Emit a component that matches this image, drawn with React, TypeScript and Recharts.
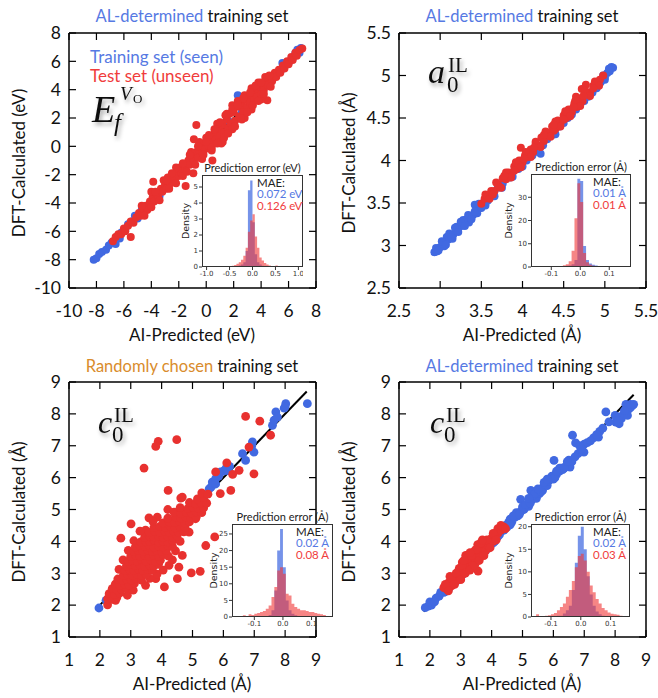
import React from 'react';
import { ScatterChart, Scatter, XAxis, YAxis, ReferenceLine, ComposedChart, Area } from 'recharts';

const BLUE = '#4169e1';
const RED = '#e8312f';
const TXT_BLUE = '#5679e3';
const TXT_RED = '#f03c3c';
const TXT_ORANGE = '#d98c2c';
const SANS = 'Lato, "Open Sans", sans-serif';
const MPL = '"DejaVu Sans", sans-serif';
const SERIF = '"Liberation Serif", "DejaVu Serif", serif';

type Pt = [number, number];

// ---- top left: E_f (eV)
const efTicks = [-10, -8, -6, -4, -2, 0, 2, 4, 6, 8];
const efFit: Pt[] = [[-8.1, -8.1], [6.9, 6.9]];
const efBlue: Pt[] = [
  [-8.2, -8.0], [-8.0, -7.9], [-7.8, -7.6], [-7.6, -7.45], [-7.3, -7.3], [-7.1, -7.0], [-6.9, -6.8], [-6.6, -6.9],
  [-6.5, -6.4], [-6.3, -6.5], [-6.2, -6.1], [-5.9, -5.9], [-5.7, -5.5], [-5.4, -5.3], [-5.2, -4.9], [-5.0, -5.1],
  [-4.7, -4.5], [-4.3, -4.4], [-3.9, -3.8], [-3.4, -3.5], [-2.9, -2.8], [-2.3, -2.5], [-1.6, -1.7], [-1.0, -1.0],
  [-0.4, -0.3], [0.3, 0.4], [1.0, 0.9], [1.6, 1.8], [2.3, 3.6], [2.6, 2.4], [3.2, 3.0], [3.9, 3.8], [4.5, 4.3],
  [5.1, 5.0], [5.6, 5.5], [5.55, 5.88], [6.0, 5.9], [6.3, 6.2], [6.5, 6.6], [6.64, 6.82], [6.9, 6.95], [6.8, 6.6],
];
const efRed: Pt[] = [
  [-6.8, -6.7], [-6.6, -6.4], [-6.4, -6.2], [-6.2, -6.2], [-6.0, -5.8], [-5.9, -6.0], [-5.7, -5.6], [-5.5, -6.4],
  [-5.5, -5.3], [-5.3, -5.4], [-5.1, -5.0], [-4.9, -4.7], [-4.8, -4.9], [-4.6, -4.4], [-4.4, -4.2], [-4.3, -4.5],
  [-4.1, -3.9], [-3.9, -3.6], [-3.8, -3.9], [-3.86, -2.5], [-3.6, -3.3], [-3.5, -3.6], [-3.3, -3.0], [-3.2, -3.2],
  [-3.0, -2.7], [-2.9, -3.0], [-2.7, -2.4], [-2.6, -2.6], [-2.4, -2.1], [-2.3, -2.3], [-2.1, -1.8], [-2.0, -2.1],
  [-1.9, -1.5], [-1.8, -1.9], [-1.6, -1.3], [-1.5, -2.8], [-1.5, -1.6], [-1.3, -1.0], [-1.2, -1.3], [-1.0, -0.7],
  [-0.94, -1.9], [-0.9, -1.0], [-0.9, 0.5], [-0.72, 1.5], [-0.7, -0.4], [-0.6, -0.8], [-0.4, -0.1], [-0.3, -0.4],
  [-0.2, 0.2], [-0.1, -0.2], [0.1, 0.4], [0.2, 0.0], [0.3, 0.7], [0.45, -1.0], [0.5, 0.3], [0.6, 0.9], [0.7, 0.5],
  [0.9, 1.2], [1.0, 0.7], [1.2, 0.3], [1.2, 1.5], [1.3, 1.0], [1.5, 1.9], [1.6, 1.3], [1.7, 2.3], [1.8, 1.6],
  [2.0, 2.4], [2.1, 1.8], [2.2, 2.8], [2.4, 2.1], [2.5, 2.8], [2.6, 3.1], [2.7, 2.4], [2.8, 2.0], [2.9, 3.3],
  [3.0, 2.8], [3.1, 3.5], [3.2, 3.1], [3.4, 3.8], [3.5, 3.3], [3.6, 4.0], [3.7, 3.5], [3.9, 4.2], [4.0, 3.7],
  [4.1, 4.4], [4.2, 4.0], [4.4, 4.7], [4.45, 3.25], [4.5, 4.3], [4.7, 4.9], [4.8, 4.6], [5.0, 5.2], [5.1, 4.9],
  [5.3, 5.4], [5.4, 5.2], [5.6, 5.7], [5.7, 5.5], [5.9, 6.0], [6.0, 5.8], [6.2, 6.3], [6.3, 6.1], [6.5, 6.6],
  [6.6, 6.4], [6.8, 6.8], [7.0, 6.9], [-2.8, -2.2], [-2.2, -1.5], [-1.1, -0.4], [-0.5, 0.3], [0.0, 0.6], [0.8, 1.6],
  [1.4, 2.2], [1.9, 2.9], [2.3, 3.2], [2.8, 3.6], [3.3, 4.1], [0.4, -0.3], [1.1, 0.2], [1.9, 1.2], [2.6, 1.9],
  [3.3, 2.6], [4.0, 3.3], [-4.0, -3.2], [-3.1, -2.4], [-1.7, -2.1], [-0.3, -0.9], [0.9, 0.3], [3.8, 4.5], [4.3, 4.9],
  [-4.7, -4.2], [-4.5, -4.9], [-4.0, -4.3], [-3.7, -3.2],
  [-3.4, -3.8], [-2.9, -2.4], [-2.7, -3.0], [-2.5, -1.9], [-2.2, -2.6], [-1.7, -1.2], [-1.4, -1.8], [-1.2, -0.6],
  [-0.8, -1.3], [-0.6, 0.0], [-0.2, -0.6], [0.0, 0.3], [0.2, 0.8], [0.4, -0.1], [0.6, 1.2], [0.8, 0.2], [1.0, 1.7],
  [1.3, 0.6], [1.5, 2.3], [1.6, 0.9], [1.9, 2.6], [2.1, 1.4], [2.3, 2.9], [2.5, 2.0], [2.7, 3.4], [3.0, 2.4],
  [3.2, 3.8], [3.4, 2.9], [3.6, 4.3], [3.8, 3.2], [4.0, 4.5], [4.2, 3.7], [4.6, 5.0], [4.7, 4.2],
];

// ---- top right: a0 (Å)
const aTicks = [2.5, 3, 3.5, 4, 4.5, 5, 5.5];
const aFit: Pt[] = [[2.93, 2.92], [5.1, 5.09]];
const aBlue: Pt[] = [
  [2.93, 2.92], [2.96, 2.93], [3.0, 2.98], [3.03, 3.02], [3.05, 2.99], [3.06, 3.04], [3.1, 3.07], [3.12, 3.12],
  [3.15, 3.08], [3.16, 3.13], [3.2, 3.17], [3.22, 3.22], [3.26, 3.23], [3.3, 3.26], [3.32, 3.31], [3.35, 3.27],
  [3.36, 3.33], [3.4, 3.36], [3.42, 3.48], [3.44, 3.42], [3.45, 3.38], [3.48, 3.44], [3.52, 3.5], [3.55, 3.47],
  [3.56, 3.52], [3.6, 3.58], [3.65, 3.61], [3.7, 3.68], [3.76, 3.73], [3.85, 3.8], [3.95, 3.9], [4.05, 4.0],
  [4.15, 4.1], [4.22, 4.08], [4.3, 4.25], [4.4, 4.31], [4.45, 4.4], [4.55, 4.5], [4.65, 4.6], [4.75, 4.7],
  [4.85, 4.8], [4.9, 4.88], [4.95, 4.92], [5.0, 4.98], [5.03, 5.03], [5.06, 5.05], [5.1, 5.09], [5.08, 5.1],
  [4.98, 5.0], [3.08, 3.1], [3.28, 3.3], [3.2, 3.22],
  [2.95, 2.97], [2.98, 2.94], [3.02, 3.05], [3.07, 3.01], [3.11, 3.14], [3.14, 3.1], [3.18, 3.21], [3.22, 3.16],
  [3.25, 3.28], [3.3, 3.23], [3.34, 3.36], [3.38, 3.31], [3.42, 3.4], [3.47, 3.49], [3.5, 3.44], [3.58, 3.53],
  [3.66, 3.58], [3.75, 3.68], [3.88, 3.81], [4.0, 3.93], [4.12, 4.06], [4.25, 4.18], [4.36, 4.3], [4.5, 4.44],
  [4.6, 4.54], [4.7, 4.65], [4.8, 4.75], [4.9, 4.85], [5.0, 4.95], [5.05, 5.08],
];
const aRed: Pt[] = [
  [3.5, 3.49], [3.54, 3.55], [3.58, 3.56], [3.62, 3.64], [3.66, 3.64], [3.7, 3.72], [3.72, 3.69], [3.76, 3.79],
  [3.8, 3.78], [3.83, 3.86], [3.86, 3.83], [3.9, 3.93], [3.93, 3.9], [3.96, 4.0], [3.98, 4.15], [4.0, 3.98],
  [4.03, 4.06], [4.06, 4.04], [4.1, 4.13], [4.13, 4.1], [4.16, 4.2], [4.2, 4.17], [4.23, 4.27], [4.26, 4.23],
  [4.3, 4.33], [4.33, 4.29], [4.36, 4.4], [4.4, 4.37], [4.43, 4.47], [4.46, 4.43], [4.5, 4.53], [4.53, 4.5],
  [4.56, 4.6], [4.6, 4.57], [4.63, 4.67], [4.65, 4.75], [4.66, 4.63], [4.7, 4.73], [4.72, 4.84], [4.73, 4.7],
  [4.77, 4.89], [4.78, 4.8], [4.82, 4.8], [4.86, 4.88], [4.9, 4.9], [4.94, 4.95], [4.98, 5.0], [3.95, 3.95],
  [4.08, 4.08], [4.25, 4.25], [4.38, 4.35], [4.52, 4.55],
  [3.55, 3.6], [3.6, 3.55], [3.68, 3.74], [3.74, 3.68], [3.8, 3.86], [3.86, 3.8], [3.92, 3.98], [3.98, 3.92],
  [4.04, 4.1], [4.1, 4.04], [4.16, 4.22], [4.22, 4.16], [4.28, 4.34], [4.34, 4.28], [4.4, 4.46], [4.46, 4.4],
  [4.52, 4.58], [4.58, 4.52], [4.64, 4.7], [4.7, 4.64], [4.76, 4.82], [4.82, 4.76], [4.88, 4.93], [4.93, 4.88],
  [3.64, 3.6], [3.78, 3.82], [3.9, 3.88], [4.02, 4.02], [4.14, 4.15], [4.26, 4.3], [4.38, 4.42], [4.5, 4.48],
  [4.62, 4.63], [4.74, 4.76], [4.86, 4.85],
];

// ---- bottom: c0 (Å)
const cTicks = [1, 2, 3, 4, 5, 6, 7, 8, 9];
const cRandFit: Pt[] = [[2.0, 2.0], [8.7, 8.7]];
const cRandBlue: Pt[] = [
  [1.97, 1.91], [2.2, 2.15], [2.4, 2.31], [2.6, 2.6], [3.0, 3.05], [3.6, 3.65], [4.2, 4.25], [4.8, 4.85],
  [5.2, 5.25], [5.4, 5.45], [5.54, 5.65], [5.64, 5.86], [5.75, 5.97], [5.85, 6.05], [5.91, 6.18], [6.0, 6.2],
  [6.08, 6.28], [6.15, 6.22], [6.2, 6.35], [6.62, 6.75], [6.72, 6.54], [6.89, 6.96], [6.94, 7.12], [6.99, 6.8],
  [6.92, 7.0], [7.59, 7.64], [7.64, 7.8], [7.7, 8.06], [7.75, 7.9], [7.97, 8.18], [8.02, 8.32], [8.0, 8.22],
  [8.72, 8.32], [5.6, 5.7], [5.75, 5.8],
];
const cRandRed: Pt[] = [
  [6.72, 7.92], [7.18, 7.77], [7.53, 7.33], [6.83, 6.96], [6.99, 6.12], [6.51, 6.23], [6.24, 5.6], [5.75, 6.18],
  [6.11, 6.46], [3.89, 7.14], [3.81, 6.98], [4.49, 7.19], [3.43, 6.3], [4.21, 5.6], [5.72, 4.14], [5.43, 3.87],
  [4.96, 3.01], [5.25, 3.06], [4.51, 2.83], [4.09, 2.57], [3.01, 4.55], [2.68, 4.1], [3.59, 4.74], [3.86, 4.76],
  [3.48, 4.35], [2.25, 2.01], [2.51, 2.15], [2.89, 2.31], [3.48, 2.62], [3.81, 2.83], [4.56, 3.19], [4.67, 3.56],
  [4.24, 3.25], [5.37, 5.13], [5.1, 4.71], [4.89, 4.29], [4.67, 5.39], [4.2, 5.0], [5.9, 5.5], [6.3, 6.1],
  [2.25, 2.2], [2.4, 2.18], [2.55, 2.24],
  [2.3, 2.36], [2.48, 2.33], [2.65, 2.38],
  [2.4, 2.52], [2.55, 2.48], [2.7, 2.5], [2.86, 2.53], [3.08, 2.47],
  [2.5, 2.66], [2.64, 2.62], [2.8, 2.67], [2.95, 2.63], [3.12, 2.68],
  [2.58, 2.82], [2.72, 2.78], [2.87, 2.81], [3.02, 2.79], [3.17, 2.83], [3.35, 2.78], [3.62, 2.84],
  [2.76, 2.93], [2.9, 2.96], [3.05, 2.94], [3.2, 2.98], [3.35, 2.93], [3.5, 2.96], [3.85, 2.97],
  [2.62, 3.12], [2.82, 3.08], [2.96, 3.11], [3.1, 3.09], [3.25, 3.13], [3.4, 3.08], [3.55, 3.12], [3.7, 3.09], [4.05, 3.1],
  [2.86, 3.23], [3.0, 3.27], [3.15, 3.24], [3.3, 3.27], [3.45, 3.22], [3.6, 3.26], [3.75, 3.23], [3.9, 3.28],
  [2.75, 3.42], [2.92, 3.38], [3.06, 3.41], [3.2, 3.39], [3.35, 3.43], [3.5, 3.38], [3.65, 3.42], [3.8, 3.37], [3.96, 3.41], [4.35, 3.42],
  [3.0, 3.53], [3.15, 3.57], [3.3, 3.54], [3.45, 3.57], [3.6, 3.52], [3.75, 3.56], [3.9, 3.53], [4.05, 3.58], [4.22, 3.54],
  [2.92, 3.72], [3.1, 3.68], [3.25, 3.71], [3.4, 3.69], [3.55, 3.73], [3.7, 3.68], [3.85, 3.71], [4.0, 3.69], [4.15, 3.72], [4.45, 3.7],
  [3.15, 3.83], [3.3, 3.87], [3.45, 3.84], [3.6, 3.87], [3.75, 3.82], [3.9, 3.86], [4.05, 3.83], [4.2, 3.87], [4.35, 3.84],
  [3.1, 4.02], [3.32, 3.98], [3.48, 4.01], [3.62, 3.99], [3.76, 4.03], [3.9, 3.98], [4.05, 4.01], [4.2, 3.98], [4.35, 4.02], [4.6, 4.0],
  [3.45, 4.13], [3.6, 4.17], [3.75, 4.14], [3.9, 4.17], [4.05, 4.12], [4.2, 4.16], [4.35, 4.13], [4.5, 4.17],
  [3.3, 4.32], [3.6, 4.28], [3.78, 4.31], [3.94, 4.29], [4.1, 4.33], [4.25, 4.28], [4.4, 4.31], [4.55, 4.29], [4.72, 4.3],
  [3.75, 4.43], [3.95, 4.47], [4.12, 4.44], [4.28, 4.47], [4.44, 4.42], [4.6, 4.46], [4.76, 4.43],
  [3.72, 4.62], [4.05, 4.58], [4.25, 4.61], [4.42, 4.59], [4.58, 4.63], [4.74, 4.58], [4.9, 4.61],
  [4.2, 4.73], [4.45, 4.77], [4.62, 4.74], [4.78, 4.77], [4.94, 4.72], [5.12, 4.76],
  [4.4, 4.92], [4.62, 4.88], [4.8, 4.91], [4.96, 4.89], [5.12, 4.93], [5.3, 4.9],
  [4.6, 5.06], [4.85, 5.03], [5.02, 5.07], [5.18, 5.04], [5.36, 5.05],
  [4.9, 5.22], [5.1, 5.18], [5.28, 5.21], [5.46, 5.2],
  [4.62, 5.36], [5.16, 5.33], [5.36, 5.37],
  [5.3, 5.52], [5.5, 5.48],
];

const cAlFit: Pt[] = [[1.8, 1.8], [8.6, 8.6]];
const cAlBlue: Pt[] = [
  [1.85, 1.92], [1.95, 1.97], [2.05, 2.0], [2.2, 2.22], [2.3, 2.28], [2.45, 2.4], [2.6, 2.5], [2.75, 2.65],
  [2.9, 2.8], [3.05, 2.95], [3.2, 3.1], [3.35, 3.25], [3.5, 3.4], [3.65, 3.55], [3.8, 3.7], [3.95, 3.85],
  [4.1, 4.0], [4.2, 4.15], [4.3, 4.3], [4.4, 4.35], [4.5, 4.45], [4.55, 4.6], [4.65, 4.6], [4.75, 4.75],
  [4.85, 4.8], [4.95, 4.95], [4.94, 5.32], [5.05, 5.0], [5.15, 5.15], [5.2, 5.1], [5.27, 5.6], [5.3, 5.3],
  [5.4, 5.4], [5.45, 5.35], [5.5, 5.55], [5.55, 5.5], [5.6, 5.65], [5.65, 5.6], [5.75, 5.86], [5.7, 5.75],
  [5.8, 5.75], [5.9, 5.95], [6.0, 5.95], [6.02, 6.54], [6.1, 6.1], [6.2, 6.2], [6.3, 6.25], [6.4, 6.35],
  [6.54, 6.33], [6.5, 6.55], [6.6, 6.5], [6.62, 7.33], [6.72, 7.09], [6.92, 6.98], [6.99, 6.8], [6.8, 6.75],
  [6.85, 7.0], [7.0, 7.05], [7.1, 7.1], [7.3, 7.25], [7.46, 7.27], [7.5, 7.45], [7.7, 8.06], [8.07, 7.9],
  [8.02, 7.74], [8.13, 7.69], [8.2, 7.85], [8.25, 7.95], [8.4, 7.95], [8.45, 8.16], [8.56, 8.27], [8.5, 8.2],
  [8.35, 8.3], [4.6, 4.7], [4.8, 4.9], [5.0, 5.08], [5.35, 5.45], [5.85, 5.9], [6.25, 6.3],
  [2.0, 2.1], [2.15, 2.1], [2.35, 2.4], [2.5, 2.42], [2.7, 2.72], [2.85, 2.75], [3.0, 3.0], [3.15, 3.05],
  [3.3, 3.3], [3.45, 3.35], [3.6, 3.6], [3.75, 3.65], [3.9, 3.9], [4.05, 3.95], [4.25, 4.2], [4.45, 4.5],
  [4.6, 4.52], [4.7, 4.8], [4.9, 4.85], [5.1, 5.15], [5.25, 5.2], [5.4, 5.5], [5.6, 5.55], [5.7, 5.85],
  [5.95, 6.05], [6.05, 6.0], [6.2, 6.3], [6.35, 6.3], [6.45, 6.5], [6.7, 6.65], [6.9, 6.9], [7.2, 7.15],
  [7.4, 7.35], [7.6, 7.55], [7.8, 7.75], [8.0, 7.95], [8.3, 8.1], [8.5, 8.3], [8.6, 8.3], [8.1, 7.8],
  [5.2, 5.35], [5.5, 5.65], [5.8, 5.95], [6.1, 6.2],
];
const cAlRed: Pt[] = [
  [2.45, 2.55], [2.55, 2.5], [2.6, 2.7], [2.7, 2.6], [2.75, 2.85], [2.8, 2.75], [2.9, 2.95], [2.9, 2.8],
  [3.0, 3.05], [3.0, 2.9], [3.1, 3.2], [3.1, 3.0], [3.16, 3.56], [3.2, 3.3], [3.2, 3.1], [3.25, 3.45],
  [3.3, 3.4], [3.3, 3.2], [3.4, 3.5], [3.4, 3.3], [3.45, 3.7], [3.5, 3.6], [3.5, 3.4], [3.56, 3.07],
  [3.6, 3.75], [3.6, 3.5], [3.65, 3.85], [3.7, 3.8], [3.7, 3.6], [3.8, 3.9], [3.8, 3.7], [3.9, 4.0],
  [3.9, 3.85], [4.0, 4.1], [4.05, 4.0], [4.1, 4.2], [4.2, 4.25], [4.2, 4.4], [4.3, 4.35], [4.4, 4.45],
  [2.65, 2.9], [3.35, 3.6], [3.05, 3.35], [2.95, 3.15], [3.55, 3.9],
  [2.5, 2.65], [2.6, 2.45], [2.7, 2.85], [2.8, 2.65], [2.85, 3.0], [3.0, 2.8], [3.05, 3.25], [3.15, 3.0],
  [3.2, 3.45], [3.3, 3.1], [3.35, 3.55], [3.45, 3.25], [3.5, 3.75], [3.6, 3.4], [3.65, 3.95], [3.75, 3.55],
  [3.85, 4.05], [3.95, 3.8], [4.05, 4.25], [4.15, 4.05], [4.3, 4.5], [4.45, 4.4], [3.3, 3.65], [3.1, 3.4],
  [3.7, 4.05],
];

// ---- inset histograms (bin left edges, density)
const errEdgesWide = [-0.6, -0.55, -0.5, -0.45, -0.4, -0.35, -0.3, -0.25, -0.2, -0.15, -0.1, -0.05, 0, 0.05, 0.1, 0.15, 0.2, 0.25, 0.3, 0.35, 0.4, 0.45, 0.5, 0.55, 0.6];
const efHistBlue = [0, 0, 0.02, 0.02, 0.04, 0.06, 0.1, 0.15, 0.3, 1.0, 4.8, 5.4, 2.8, 0.8, 0.3, 0.15, 0.08, 0.05, 0.03, 0.02, 0.01, 0, 0, 0, 0];
const efHistRed = [0.03, 0.05, 0.05, 0.08, 0.12, 0.2, 0.3, 0.45, 0.7, 1.2, 2.2, 2.9, 3.3, 1.9, 1.2, 0.6, 0.4, 0.25, 0.15, 0.1, 0.06, 0.04, 0.1, 0.03, 0];

const errEdgesFine = [-0.15, -0.14, -0.13, -0.12, -0.11, -0.1, -0.09, -0.08, -0.07, -0.06, -0.05, -0.04, -0.03, -0.02, -0.01, 0, 0.01, 0.02, 0.03, 0.04, 0.05, 0.06, 0.07, 0.08, 0.09, 0.1, 0.11, 0.12, 0.13, 0.14, 0.15];
const aHistBlue = [0, 0, 0, 0.2, 0, 0.2, 0.1, 0.2, 0.2, 0.3, 0.5, 0.6, 1.2, 3, 38, 37, 9, 3, 1.5, 1, 0.6, 0.4, 0.3, 0.3, 0.2, 0.2, 0.1, 0.1, 0.1, 0.1, 0];
const aHistRed = [0, 0, 0, 0.1, 0.1, 0.2, 0.2, 0.3, 0.4, 0.7, 1.2, 2.5, 7, 21, 36, 28, 6, 2, 1, 0.5, 0.3, 0.2, 0.1, 0.1, 0, 0, 0, 0, 0, 0, 0];
const cRandHistBlue = [0, 0, 0, 0, 0, 0, 0, 0, 0.2, 0.3, 0.6, 2, 8, 20, 26.5, 15, 5, 2, 1, 0.5, 0.2, 0, 0, 0, 0, 0, 0, 0, 0, 0, 0];
const cRandHistRed = [0.3, 0.5, 0.3, 0.8, 0.6, 1, 1.2, 1.5, 1.8, 2.5, 3.5, 6, 9, 14, 15, 13, 7, 6.5, 4, 3, 2.5, 2, 2, 1.8, 1.5, 1.5, 1.2, 1, 0.8, 0.6, 0];
const cAlHistBlue = [0, 0, 0, 0, 0, 0, 0, 0.3, 0.3, 0.8, 1.5, 2.5, 6, 12, 18, 20, 15, 9, 5, 2.5, 1.2, 0.6, 0.3, 0, 0, 0, 0, 0, 0, 0, 0];
const cAlHistRed = [0.6, 0, 0.2, 0.3, 0.4, 0.6, 0.9, 1.5, 2.2, 3, 4.5, 6, 8, 11, 13.5, 14, 12.5, 10, 7, 5.5, 4, 3, 2, 1.5, 1, 0.7, 0.6, 0.5, 0.3, 0.2, 0];

const toXY = (pts: Pt[]) => pts.map(([x, y]) => ({ x, y }));
const toHist = (edges: number[], b: number[], r: number[]) => edges.map((x, i) => ({ x, blue: b[i], red: r[i] }));

type Box = [number, number, number, number];

const TICK_FONT = 17.5;
const TICK_LEN = 7;

// main-plot ticks point inwards (matplotlib "in" style on all four sides)
const TickLeft = (p: any) => (
  <g>
    <line x1={p.x + 8} x2={p.x + 8 + TICK_LEN} y1={p.y} y2={p.y} stroke="#000" strokeWidth={1.2} />
    <text x={p.x} y={p.y} dy={6.3} textAnchor="end" fill="#111" fontSize={TICK_FONT} fontFamily={SANS}>{String(p.payload.value)}</text>
  </g>
);
const TickBottom = (p: any) => (
  <g>
    <line x1={p.x} x2={p.x} y1={p.y - TICK_LEN} y2={p.y} stroke="#000" strokeWidth={1.2} />
    <text x={p.x} y={p.y + 29} textAnchor="middle" fill="#111" fontSize={TICK_FONT} fontFamily={SANS}>{String(p.payload.value)}</text>
  </g>
);
const TickTop = (p: any) => <line x1={p.x} x2={p.x} y1={p.y} y2={p.y + TICK_LEN} stroke="#000" strokeWidth={1.2} />;
const TickRight = (p: any) => <line x1={p.x - TICK_LEN} x2={p.x} y1={p.y} y2={p.y} stroke="#000" strokeWidth={1.2} />;

const Panel = ({ box, domain, ticks, blue, red, fit, r }: { box: Box; domain: [number, number]; ticks: number[]; blue: Pt[]; red: Pt[]; fit: Pt[]; r: number }) => {
  const [L, T, R, B] = box;
  const axisLine = { stroke: '#000', strokeWidth: 1.5 };
  const dot = (c: string) => (p: any) => <circle cx={p.cx} cy={p.cy} r={r} fill={c} />;
  return (
    <div style={{ position: 'absolute', left: L - 60, top: T - 10 }}>
      <ScatterChart width={R - L + 80} height={B - T + 50} margin={{ top: 9, right: 19, bottom: 0, left: 0 }}>
        <XAxis xAxisId="b" type="number" dataKey="x" domain={domain} ticks={ticks} interval={0} allowDataOverflow
          height={40} tickSize={0} tickMargin={0} axisLine={axisLine} tickLine={false} tick={TickBottom} />
        <XAxis xAxisId="t" orientation="top" type="number" dataKey="x" domain={domain} ticks={ticks} interval={0} allowDataOverflow
          height={1} tickSize={0} tickMargin={0} axisLine={axisLine} tickLine={false} tick={TickTop} />
        <YAxis yAxisId="l" type="number" dataKey="y" domain={domain} ticks={ticks} interval={0} allowDataOverflow
          width={60} tickSize={0} tickMargin={8} axisLine={axisLine} tickLine={false} tick={TickLeft} />
        <YAxis yAxisId="r" orientation="right" type="number" dataKey="y" domain={domain} ticks={ticks} interval={0} allowDataOverflow
          width={1} tickSize={0} tickMargin={0} axisLine={axisLine} tickLine={false} tick={TickRight} />
        <Scatter xAxisId="b" yAxisId="l" data={toXY(blue)} shape={dot(BLUE)} isAnimationActive={false} />
        <Scatter xAxisId="b" yAxisId="l" data={toXY(red)} shape={dot(RED)} isAnimationActive={false} />
        <ReferenceLine xAxisId="b" yAxisId="l" segment={toXY(fit)} stroke="#000" strokeWidth={2} />
      </ScatterChart>
    </div>
  );
};

const Inset = ({ box, xDomain, xTicks, yMax, yTicks, edges, blue, red }: {
  box: Box; xDomain: [number, number]; xTicks: number[]; yMax: number; yTicks: number[]; edges: number[]; blue: number[]; red: number[];
}) => {
  const [L, T, R, B] = box;
  const tick = { fill: '#333', fontSize: 7, fontFamily: MPL };
  return (
    <>
      <div style={{ position: 'absolute', left: L, top: T, width: R - L, height: B - T, background: '#fff' }} />
      <div style={{ position: 'absolute', left: L - 22, top: T }}>
        <ComposedChart width={R - L + 22} height={B - T + 14} margin={{ top: 0, right: 0, bottom: 0, left: 0 }} data={toHist(edges, blue, red)}>
          <XAxis type="number" dataKey="x" domain={xDomain} ticks={xTicks} interval={0} allowDataOverflow height={14}
            tickSize={3} tickMargin={1} axisLine={false} tickLine={{ stroke: '#333' }} tick={tick}
            tickFormatter={(v: number) => v.toFixed(1)} />
          <YAxis type="number" domain={[0, yMax]} ticks={yTicks} interval={0} allowDataOverflow width={22}
            tickSize={3} tickMargin={1} axisLine={false} tickLine={{ stroke: '#333' }} tick={tick} />
          <Area type="stepAfter" dataKey="blue" fill={BLUE} fillOpacity={0.72} stroke="none" isAnimationActive={false} />
          <Area type="stepAfter" dataKey="red" fill="#f03a3a" fillOpacity={0.62} stroke="none" isAnimationActive={false} />
        </ComposedChart>
      </div>
      <div style={{ position: 'absolute', left: L, top: T, width: R - L, height: B - T, border: '1px solid #333', boxSizing: 'border-box' }} />
    </>
  );
};

const Title = ({ x, y, lead, color }: { x: number; y: number; lead: string; color: string }) => (
  <text x={x} y={y} textAnchor="middle" fontSize={16.5} fontFamily={SANS}>
    <tspan fill={color}>{lead}</tspan>
    <tspan fill="#111">{'\u00a0training set'}</tspan>
  </text>
);

const Axes = ({ cx, cy, unit }: { cx: number; cy: number; unit: string }) => (
  <>
    <text x={cx} y={cy + 178} textAnchor="middle" fontSize={17} fontFamily={SANS} fill="#111">{`AI-Predicted (${unit})`}</text>
    <text x={cx - 174} y={cy} textAnchor="middle" dominantBaseline="central" fontSize={17} fontFamily={SANS} fill="#111"
      transform={`rotate(-90 ${cx - 174} ${cy})`}>{`DFT-Calculated (${unit})`}</text>
  </>
);

const InsetText = ({ box, unit, mae1, mae2, dx, ddx }: { box: Box; unit: string; mae1: string; mae2: string; dx: number; ddx: number }) => {
  const [L, T, R, B] = box;
  return (
    <>
      <text x={(L + R) / 2} y={T - 3} textAnchor="middle" fontSize={11} fontFamily={SANS} fill="#222">{`Prediction error (${unit})`}</text>
      <text x={L + dx} y={T + 12} fontSize={11.5} fontFamily={SANS} fill="#222">MAE:</text>
      <text x={L + dx} y={T + 23} fontSize={11.5} fontFamily={SANS} fill={TXT_BLUE}>{mae1}</text>
      <text x={L + dx} y={T + 35} fontSize={11.5} fontFamily={SANS} fill={TXT_RED}>{mae2}</text>
      <text x={L - ddx} y={(T + B) / 2} textAnchor="middle" dominantBaseline="central" fontSize={9.5}
        fontFamily={MPL} fill="#222" transform={`rotate(-90 ${L - ddx} ${(T + B) / 2})`}>Density</text>
    </>
  );
};

const CLabel = ({ x, y, letter }: { x: number; y: number; letter: string }) => (
  <g filter="url(#shadow)" fontFamily={SERIF} fill="#111">
    <text x={x} y={y} fontSize={letter === 'a' ? 34 : 32} fontStyle="italic">{letter}</text>
    <text x={x + (letter === 'a' ? 19 : 14)} y={y + 9} fontSize={23}>0</text>
    <text x={x + (letter === 'a' ? 20 : 16)} y={y - 11} fontSize={21}>IL</text>
  </g>
);

const P1: Box = [69, 33, 316, 288];
const P2: Box = [399, 33, 646, 288];
const P3: Box = [69, 382, 316, 637];
const P4: Box = [399, 382, 646, 637];
const I1: Box = [202, 175, 303, 267];
const I2: Box = [531, 174, 631, 267];
const I3: Box = [232, 524, 333, 617];
const I4: Box = [531, 524, 630, 617];

export default function App() {
  return (
    <div style={{ position: 'absolute', left: 0, top: 0, width: 658, height: 698, background: '#fff', overflow: 'hidden' }}>
      <Panel box={P1} domain={[-10, 8]} ticks={efTicks} blue={efBlue} red={efRed} fit={efFit} r={4} />
      <Panel box={P2} domain={[2.5, 5.5]} ticks={aTicks} blue={aBlue} red={aRed} fit={aFit} r={4} />
      <Panel box={P3} domain={[1, 9]} ticks={cTicks} blue={cRandBlue} red={cRandRed} fit={cRandFit} r={4.4} />
      <Panel box={P4} domain={[1, 9]} ticks={cTicks} blue={cAlBlue} red={cAlRed} fit={cAlFit} r={4.4} />

      <Inset box={I1} xDomain={[-1.1, 1.1]} xTicks={[-1, -0.5, 0, 0.5, 1]} yMax={5.75} yTicks={[0, 1, 2, 3, 4, 5]}
        edges={errEdgesWide} blue={efHistBlue} red={efHistRed} />
      <Inset box={I2} xDomain={[-0.17, 0.175]} xTicks={[-0.1, 0, 0.1]} yMax={40} yTicks={[0, 10, 20, 30]}
        edges={errEdgesFine} blue={aHistBlue} red={aHistRed} />
      <Inset box={I3} xDomain={[-0.178, 0.175]} xTicks={[-0.1, 0, 0.1]} yMax={28} yTicks={[0, 5, 10, 15, 20, 25]}
        edges={errEdgesFine} blue={cRandHistBlue} red={cRandHistRed} />
      <Inset box={I4} xDomain={[-0.167, 0.165]} xTicks={[-0.1, 0, 0.1]} yMax={20.6} yTicks={[0, 5, 10, 15, 20]}
        edges={errEdgesFine} blue={cAlHistBlue} red={cAlHistRed} />

      <svg width={658} height={698} style={{ position: 'absolute', left: 0, top: 0, pointerEvents: 'none' }}>
        <defs>
          <filter id="shadow" x="-20%" y="-20%" width="160%" height="160%">
            <feDropShadow dx="2" dy="3" stdDeviation="2" floodColor="#000" floodOpacity="0.35" />
          </filter>
        </defs>
        <Title x={192} y={22} lead="AL-determined" color={TXT_BLUE} />
        <Title x={522} y={22} lead="AL-determined" color={TXT_BLUE} />
        <Title x={192} y={372} lead="Randomly chosen" color={TXT_ORANGE} />
        <Title x={522} y={372} lead="AL-determined" color={TXT_BLUE} />

        <Axes cx={192} cy={163} unit="eV" />
        <Axes cx={522} cy={163} unit="Å" />
        <Axes cx={192} cy={512} unit="Å" />
        <Axes cx={522} cy={512} unit="Å" />

        <text x={90} y={63} fontSize={17} fontFamily={SANS} fill={TXT_BLUE}>Training set (seen)</text>
        <text x={90} y={82} fontSize={17} fontFamily={SANS} fill={TXT_RED}>Test set (unseen)</text>

        <g filter="url(#shadow)" fontFamily={SERIF} fill="#111">
          <text x={92} y={122} fontSize={38} fontStyle="italic">E</text>
          <text x={114} y={131} fontSize={25} fontStyle="italic">f</text>
          <text x={120} y={100} fontSize={19} fontStyle="italic">V</text>
          <text x={133} y={103} fontSize={13}>O</text>
        </g>
        <CLabel x={428} y={83} letter="a" />
        <CLabel x={98} y={433} letter="c" />
        <CLabel x={430} y={433} letter="c" />

        <InsetText box={I1} unit="eV" mae1="0.072 eV" mae2="0.126 eV" dx={55} ddx={17} />
        <InsetText box={I2} unit="Å" mae1="0.01 Å" mae2="0.01 Å" dx={62} ddx={23} />
        <InsetText box={I3} unit="Å" mae1="0.02 Å" mae2="0.08 Å" dx={64} ddx={19} />
        <InsetText box={I4} unit="Å" mae1="0.02 Å" mae2="0.03 Å" dx={62} ddx={23} />
      </svg>
    </div>
  );
}
